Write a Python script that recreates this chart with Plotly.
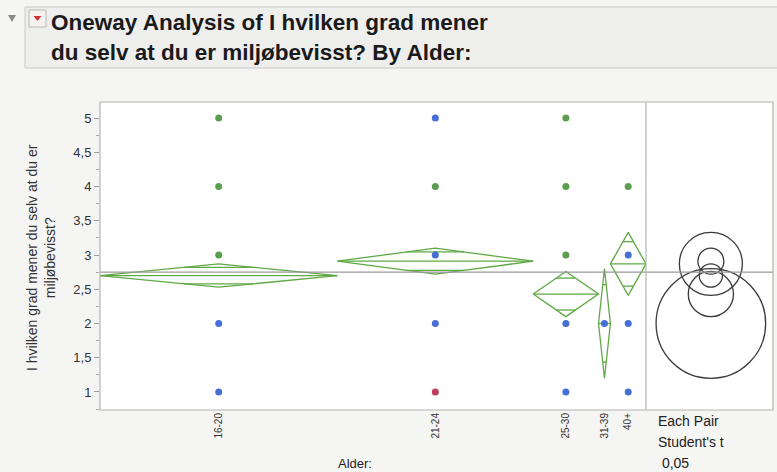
import numpy as np
import plotly.graph_objects as go

# ---- summary data ---------------------------------------------------------
groups = ["16-20", "21-24", "25-30", "31-39", "40+"]
group_n = [40, 33, 11, 2, 6]
group_mean = [2.70, 2.91, 2.43, 2.00, 2.87]
ci_half = [0.17, 0.19, 0.33, 0.80, 0.46]
grand_mean = 2.75

# individual responses (one dot per distinct value) with row-state colours
resp_group = ["16-20"] * 5 + ["21-24"] * 5 + ["25-30"] * 5 + ["31-39"] + ["40+"] * 4
resp_value = [5, 4, 3, 2, 1, 5, 4, 3, 2, 1, 5, 4, 3, 2, 1, 2, 4, 3, 2, 1]
resp_state = ["g", "g", "g", "b", "b",
              "b", "g", "b", "b", "r",
              "g", "g", "g", "b", "b",
              "b",
              "g", "b", "b", "b"]

y_ticks = [1, 1.5, 2, 2.5, 3, 3.5, 4, 4.5, 5]
y_ticktext = [str(v).replace(".", ",") for v in y_ticks]

# ---- styling --------------------------------------------------------------
FONT = "Liberation Sans, Arial, Helvetica, sans-serif"
STATE_COLORS = {"g": "#5c9e4f", "b": "#456fd6", "r": "#c23c5c"}
DIAMOND = "#5fa845"
PAGE_BG = "#f5f5f3"

W, H = 777, 472
PL, PR, PT, PB = 100, 773, 102, 410      # plot area in pixels
SPLIT = 646                              # boundary between means panel and circle panel

def px(x):
    return (x - PL) / (PR - PL)

def py(y):
    return (PB - y) / (PB - PT)

split_frac = px(SPLIT)

# y range so that 1..5 lands where the axis needs it
y_lo, y_hi = 0.737, 5.234
units_per_px = (y_hi - y_lo) / (PB - PT)
circle_w = (PR - SPLIT) * units_per_px   # same scale horizontally in circle panel

# ---- group geometry on the x axis (widths proportional to n) --------------
edges = np.concatenate([[0], np.cumsum(group_n)]).astype(float)
left = edges[:-1]
right = edges[1:]
center = (left + right) / 2
center_of = dict(zip(groups, center))

fig = go.Figure()

# means diamonds
dx, dy = [], []
for L, R, C, m, h in zip(left, right, center, group_mean, ci_half):
    dx += [L, C, R, C, L, None, L, R, None]
    dy += [m, m + h, m, m - h, m, None, m, m, None]
    k = h / np.sqrt(2)
    half = (R - L) / 2 * (1 - 1 / np.sqrt(2))
    for s in (1, -1):
        dx += [C - half, C + half, None]
        dy += [m + s * k, m + s * k, None]
fig.add_trace(go.Scatter(x=dx, y=dy, mode="lines",
                         line=dict(color=DIAMOND, width=1.3),
                         hoverinfo="skip", showlegend=False))

# response dots
fig.add_trace(go.Scatter(
    x=[center_of[g] for g in resp_group], y=resp_value, mode="markers",
    marker=dict(size=7, color=[STATE_COLORS[s] for s in resp_state], line=dict(width=0)),
    showlegend=False))

# invisible trace to activate the circle panel axis
fig.add_trace(go.Scatter(x=[0], y=[grand_mean], xaxis="x2", yaxis="y",
                         mode="markers", marker=dict(size=1, opacity=0),
                         hoverinfo="skip", showlegend=False))

shapes = []
# comparison circles
for m, h in zip(group_mean, ci_half):
    shapes.append(dict(type="circle", xref="x2", yref="y",
                       x0=-h, x1=h, y0=m - h, y1=m + h,
                       line=dict(color="#3a3a3a", width=1.3)))
# grand mean line across both panels
shapes.append(dict(type="line", xref="paper", yref="y", x0=0, x1=1,
                   y0=grand_mean, y1=grand_mean,
                   line=dict(color="#9a9a9a", width=1.2)))
# frames
shapes.append(dict(type="rect", xref="paper", yref="paper", x0=0, x1=1, y0=0, y1=1,
                   line=dict(color="#b4b4b4", width=1.2)))
shapes.append(dict(type="line", xref="paper", yref="paper", x0=split_frac, x1=split_frac,
                   y0=0, y1=1, line=dict(color="#b4b4b4", width=1.2)))
# header box
shapes.append(dict(type="rect", xref="paper", yref="paper", layer="below",
                   x0=px(25), x1=px(790), y0=py(68), y1=py(7),
                   fillcolor="#eeeeec", line=dict(color="#c9c9c9", width=1)))
# disclosure triangle
shapes.append(dict(type="path", xref="paper", yref="paper",
                   path=f"M {px(8)} {py(15)} L {px(16)} {py(15)} L {px(12)} {py(22)} Z",
                   fillcolor="#8a8a8a", line=dict(width=0)))
# red popup icon
shapes.append(dict(type="rect", xref="paper", yref="paper",
                   x0=px(29), x1=px(46), y0=py(27), y1=py(10),
                   fillcolor="#f6f1f1", line=dict(color="#b8b8b8", width=1)))
shapes.append(dict(type="path", xref="paper", yref="paper",
                   path=f"M {px(33.5)} {py(16)} L {px(41.5)} {py(16)} L {px(37.5)} {py(21)} Z",
                   fillcolor="#d0303a", line=dict(width=0)))

annotations = [
    dict(text="<b>Oneway Analysis of I hvilken grad mener</b>", x=px(49), y=py(23),
         xref="paper", yref="paper", xanchor="left", yanchor="middle", showarrow=False,
         font=dict(family=FONT, size=22.5, color="#1a1a1a")),
    dict(text="<b>du selv at du er miljøbevisst? By Alder:</b>", x=px(49), y=py(53),
         xref="paper", yref="paper", xanchor="left", yanchor="middle", showarrow=False,
         font=dict(family=FONT, size=22.5, color="#1a1a1a")),
    dict(text="I hvilken grad mener du selv at du er<br>miljøbevisst?", x=px(41), y=py(258),
         xref="paper", yref="paper", xanchor="center", yanchor="middle", showarrow=False,
         textangle=-90, font=dict(family=FONT, size=14, color="#333333")),
    dict(text="Alder:", x=px(355), y=py(463),
         xref="paper", yref="paper", xanchor="center", yanchor="middle", showarrow=False,
         font=dict(family=FONT, size=13, color="#222222")),
]
for i, line in enumerate(["Each Pair", "Student's t", " 0,05"]):
    annotations.append(dict(text=line, x=px(656), y=py(421 + 21 * i),
                            xref="paper", yref="paper", xanchor="left", yanchor="middle",
                            showarrow=False, font=dict(family=FONT, size=14, color="#222222")))

fig.update_layout(
    width=W, height=H, autosize=False,
    margin=dict(l=PL, r=W - PR, t=PT, b=H - PB),
    paper_bgcolor=PAGE_BG, plot_bgcolor="white",
    showlegend=False,
    font=dict(family=FONT),
    xaxis=dict(domain=[0, split_frac], range=[0, edges[-1]],
               tickmode="array", tickvals=list(center), ticktext=groups,
               tickangle=-90, ticks="", showgrid=False, zeroline=False,
               tickfont=dict(family=FONT, size=10, color="#333333")),
    xaxis3=dict(domain=[0, split_frac], range=[0, edges[-1]], overlaying="x",
                anchor="y", side="bottom",
                tickmode="array", tickvals=list(edges[1:-1]), showticklabels=False,
                ticks="outside", ticklen=5, tickcolor="#999999",
                showgrid=False, zeroline=False),
    xaxis2=dict(domain=[split_frac, 1], range=[-circle_w / 2 - 0.02, circle_w / 2 - 0.02],
                anchor="y", showticklabels=False, ticks="", showgrid=False, zeroline=False),
    yaxis=dict(range=[y_lo, y_hi], tickmode="array", tickvals=y_ticks, ticktext=y_ticktext,
               ticks="outside", ticklen=5, tickcolor="#999999",
               minor=dict(ticks="outside", ticklen=3, dtick=0.25, tick0=0, tickcolor="#aaaaaa"),
               showgrid=False, zeroline=False,
               tickfont=dict(family=FONT, size=13, color="#333333")),
    shapes=shapes,
    annotations=annotations,
)

fig.write_html("out.html")
